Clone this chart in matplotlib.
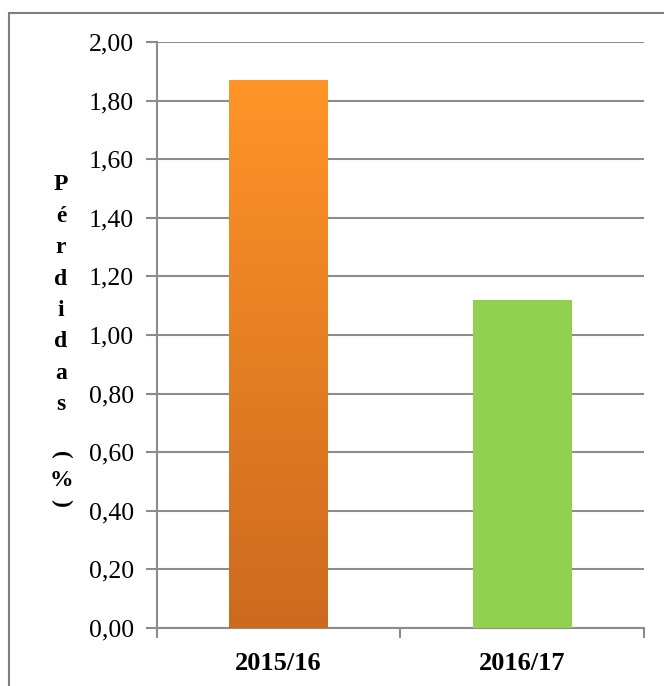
import numpy as np
import matplotlib.pyplot as plt
from matplotlib.patches import Rectangle
from matplotlib.colors import LinearSegmentedColormap
from matplotlib.ticker import FuncFormatter

seasons = ['2015/16', '2016/17']
losses = [1.87, 1.12]
ylabel_letters = ['P', 'é', 'r', 'd', 'i', 'd', 'a', 's']

plt.rcParams['font.family'] = ['Liberation Serif', 'DejaVu Serif']

fig = plt.figure(figsize=(6.64, 6.86), dpi=100)
ax = fig.add_axes([156.5 / 664, 1 - 628 / 686, 487.5 / 664, 586 / 686])

grid_col = '#8c8c8c'
x = np.arange(len(seasons))
bars = ax.bar(x, losses, width=0.406, color=['#f28a2a', '#92d050'], zorder=3)

# orange bar gets a vertical gradient, dark at the base
orange = LinearSegmentedColormap.from_list('org', ['#cc6a1f', '#ff9428'])
b = bars[0]
grad = np.linspace(0, 1, 256).reshape(-1, 1)
im = ax.imshow(grad, cmap=orange, origin='lower', aspect='auto',
               extent=[b.get_x(), b.get_x() + b.get_width(), 0, b.get_height()],
               zorder=4)
im.set_clip_path(b)

ax.set_xlim(-0.5, 1.5)
ax.set_ylim(0, 2.0)
ax.set_yticks(np.arange(0, 2.01, 0.2))
ax.yaxis.set_major_formatter(FuncFormatter(lambda v, p: f'{v:.2f}'.replace('.', ',')))
ax.set_xticks(x)
ax.set_xticklabels(seasons, fontsize=19, fontweight='bold')
ax.set_xticks([-0.5, 0.5, 1.5], minor=True)
ax.tick_params(axis='x', which='major', length=0, pad=17)
ax.tick_params(axis='x', which='minor', length=7, color=grid_col, width=1.5, direction='out')
ax.tick_params(axis='y', length=8, color=grid_col, width=1.5, labelsize=18.5, pad=8)
ax.grid(axis='y', color=grid_col, lw=1.5, zorder=0)
for s in ['top', 'right']:
    ax.spines[s].set_visible(False)
for s in ['left', 'bottom']:
    ax.spines[s].set_color(grid_col)
    ax.spines[s].set_linewidth(1.5)
ax.set_xlim(-0.5, 1.5)

# stacked vertical axis title, brackets turned on their side
lx = 61 / 664
for i, ch in enumerate(ylabel_letters):
    fig.text(lx, 1 - (185 + i * 31.4) / 686, ch, ha='center', va='center',
             fontsize=17, fontweight='bold')
fig.text(lx, 1 - 455 / 686, '(', ha='center', va='center', fontsize=17,
         fontweight='bold', rotation=-90)
fig.text(lx, 1 - 481 / 686, '%', ha='center', va='center', fontsize=17,
         fontweight='bold')
fig.text(lx, 1 - 503 / 686, ')', ha='center', va='center', fontsize=17,
         fontweight='bold', rotation=-90)

# frame around the whole chart
fig.patches.append(Rectangle((8.5 / 664, -0.05), 0.99, 1 - 13 / 686 + 0.05,
                             transform=fig.transFigure, fill=False,
                             edgecolor='#7f7f7f', lw=1.5))

fig.savefig('out.png', dpi=100)
